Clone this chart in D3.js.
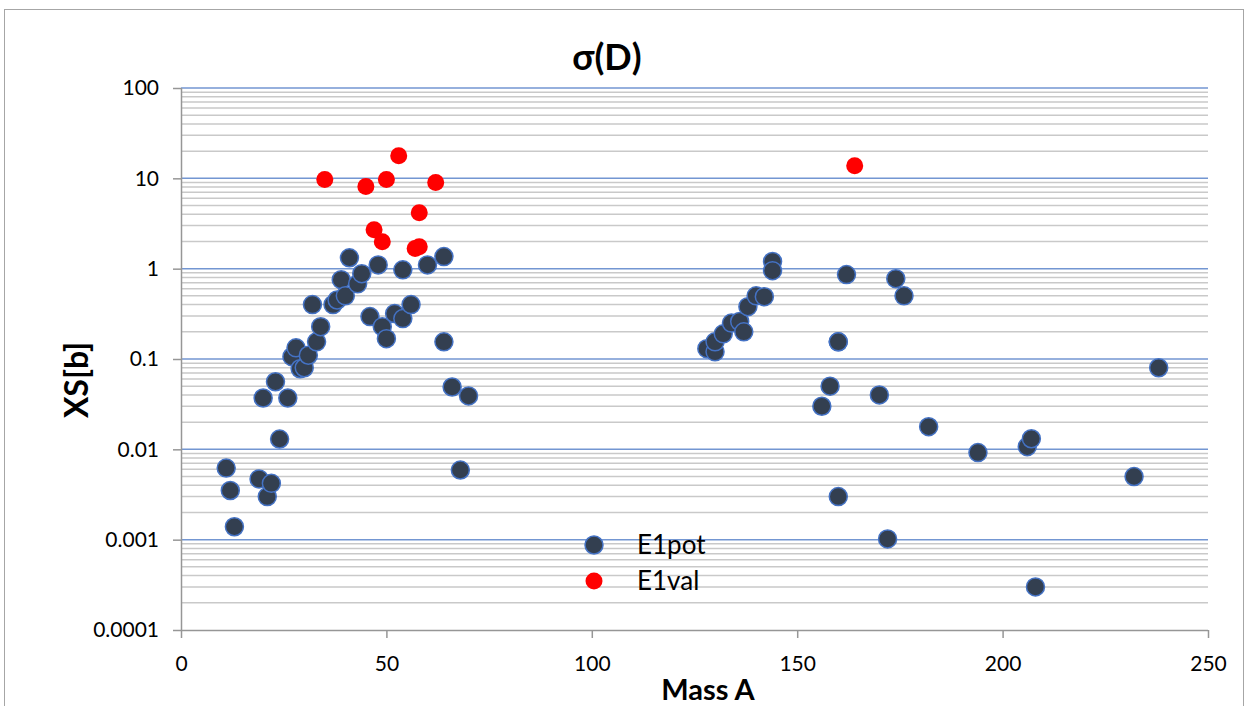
<!DOCTYPE html>
<html><head><meta charset="utf-8">
<script src="https://cdn.jsdelivr.net/npm/d3@7"></script>
<style>body{margin:0;background:#fff;}svg{display:block;font-family:Lato,"Liberation Sans",sans-serif;}</style>
</head><body><svg id="c" width="1247" height="706"></svg>
<script>
const potMass = [11,12,13,19,20,21,22,23,24,26,27,28,29,30,31,32,33,34,37,38,39,40,41,43,44,46,48,49,50,52,54,54,56,60,64,64,66,68,70,
  128,130,130,132,134,136,137,138,140,142,144,144,156,158,160,160,160,162,170,172,174,176,182,194,206,207,208,232,238];
const potXS = [0.0062,0.0035,0.00139,0.0047,0.037,0.003,0.0042,0.056,0.013,0.037,0.106,0.133,0.078,0.08,0.11,0.4,0.155,0.228,0.4,0.45,0.755,0.5,1.32,0.68,0.88,0.295,1.1,0.228,0.168,0.318,0.97,0.28,0.4,1.1,1.36,0.155,0.049,0.0059,0.039,
  0.13,0.12,0.155,0.19,0.25,0.26,0.2,0.38,0.5,0.49,1.2,0.95,0.03,0.05,0.155,0.003,0.155,0.86,0.04,0.00102,0.775,0.5,0.0178,0.0092,0.0107,0.0131,0.0003,0.005,0.08];
const valMass = [35,45,47,49,50,53,57,58,58,62,164];
const valXS = [9.7,8.1,2.7,1.99,9.7,17.8,1.67,1.75,4.17,9.0,13.8];
const xTicks = [0,50,100,150,200,250];
const yTicks = [0.0001,0.001,0.01,0.1,1,10,100];
const yTickLabels = ["0.0001","0.001","0.01","0.1","1","10","100"];
const seriesNames = ["E1pot","E1val"];

const svg = d3.select("#c");
// outer frame
svg.append("rect").attr("x",4.5).attr("y",9.5).attr("width",1239).attr("height",720)
  .attr("fill","none").attr("stroke","#a6a6a6").attr("stroke-width",1);

const x = d3.scaleLinear().domain([0,250]).range([181,1208]);
const y = d3.scaleLog().domain([0.0001,100]).range([630,88]);

// minor gridlines
const minors = [];
for (let e=-4;e<2;e++) for (let m=2;m<=9;m++) minors.push(m*Math.pow(10,e));
svg.append("g").selectAll("line").data(minors).join("line")
  .attr("x1",181).attr("x2",1208).attr("y1",d=>y(d)).attr("y2",d=>y(d))
  .attr("stroke","#c9c9c9").attr("stroke-width",1.5);
// major gridlines
svg.append("g").selectAll("line").data(yTicks.slice(1)).join("line")
  .attr("x1",181).attr("x2",1208).attr("y1",d=>y(d)).attr("y2",d=>y(d))
  .attr("stroke","#7396d2").attr("stroke-width",1.5);

// axes
const yAxis = d3.axisLeft(y).tickValues(yTicks).tickFormat((d,i)=>yTickLabels[i]).tickSize(8).tickPadding(14);
const gy = svg.append("g").attr("transform","translate(181,0)").call(yAxis);
const xAxis = d3.axisBottom(x).tickValues(xTicks).tickFormat(d3.format("d")).tickSize(8).tickPadding(18);
const gx = svg.append("g").attr("transform","translate(0,630)").call(xAxis);
[gx,gy].forEach(g=>{
  g.select(".domain").attr("stroke","#969696").attr("stroke-width",1.5);
  g.selectAll(".tick line").attr("stroke","#969696").attr("stroke-width",1.5);
  g.selectAll(".tick text").attr("fill","#000").style("font-size","21px").style("font-family","Lato,'Liberation Sans',sans-serif");
});
gx.select(".domain").attr("d","M181,0.5H1208");
gy.select(".domain").attr("d","M0.5,88V630");

// points
svg.append("g").selectAll("circle").data(potMass.map((m,i)=>[m,potXS[i]])).join("circle")
  .attr("cx",d=>x(d[0])).attr("cy",d=>y(d[1])).attr("r",9)
  .attr("fill","#333f50").attr("stroke","#4472c4").attr("stroke-width",1.5);
svg.append("g").selectAll("circle").data(valMass.map((m,i)=>[m,valXS[i]])).join("circle")
  .attr("cx",d=>x(d[0])).attr("cy",d=>y(d[1])).attr("r",8.5)
  .attr("fill","#ff0000");

// title and labels
svg.append("text").attr("x",607).attr("y",70).attr("text-anchor","middle")
  .style("font-size","36px").style("font-weight","bold").text("σ(D)");
svg.append("text").attr("x",708).attr("y",700).attr("text-anchor","middle")
  .style("font-size","29px").style("font-weight","bold").text("Mass A");
svg.append("text").attr("transform","translate(88,380) rotate(-90)").attr("text-anchor","middle")
  .style("font-size","32px").style("font-weight","bold").text("XS[b]");

// legend
const lg = svg.append("g");
lg.append("circle").attr("cx",594).attr("cy",545).attr("r",9).attr("fill","#333f50").attr("stroke","#4472c4").attr("stroke-width",1.5);
lg.append("circle").attr("cx",594).attr("cy",581).attr("r",8.5).attr("fill","#ff0000");
lg.selectAll("text").data(seriesNames).join("text")
  .attr("x",637).attr("y",(d,i)=>554+i*36).style("font-size","26px").text(d=>d);
</script></body></html>
